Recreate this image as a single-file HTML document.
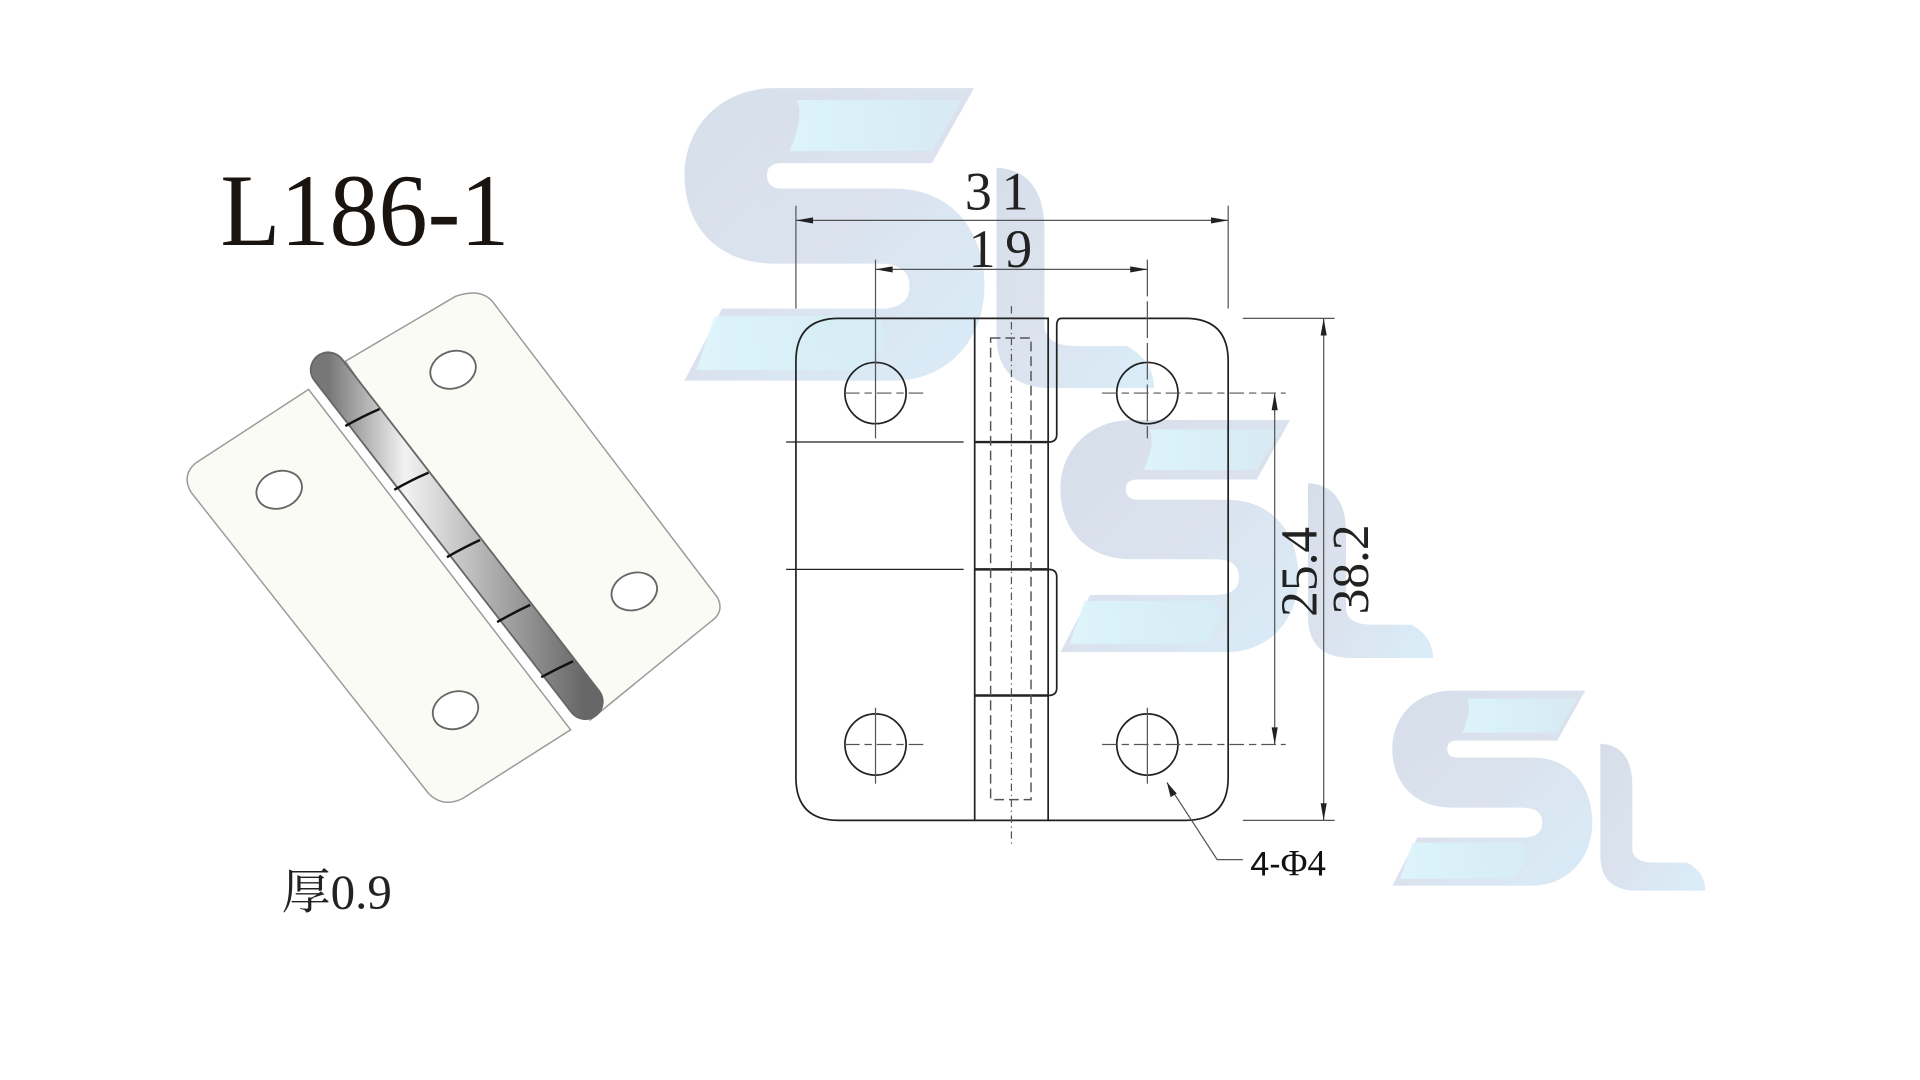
<!DOCTYPE html>
<html><head><meta charset="utf-8"><style>
html,body{margin:0;padding:0;background:#fff;}
svg{display:block;}
</style></head><body>
<svg width="1920" height="1080" viewBox="0 0 1568 882" xmlns="http://www.w3.org/2000/svg">
<defs>
<linearGradient id="lg" x1="0" y1="0" x2="1" y2="1">
<stop offset="0" stop-color="#cdd7e6"/><stop offset="0.5" stop-color="#d3dceb"/><stop offset="1" stop-color="#cfe9f7"/>
</linearGradient>
<linearGradient id="cy" x1="0" y1="0" x2="1" y2="0">
<stop offset="0" stop-color="#d6f5fd" stop-opacity="0.9"/><stop offset="1" stop-color="#c9f2fb" stop-opacity="0.4"/>
</linearGradient>
<linearGradient id="pin" x1="0" y1="0" x2="1" y2="0">
<stop offset="0" stop-color="#777"/><stop offset="0.3" stop-color="#f2f2f2"/><stop offset="0.6" stop-color="#b5b5b5"/><stop offset="1" stop-color="#666"/>
</linearGradient>
<g id="logo" opacity="0.8">
<path fill="url(#lg)" d="M60,0 H193 L165,50 H65 Q55,50 55,58 Q55,67 65,67 H140 C178,67 200,95 200,132 C200,168 175,195 140,195 H0 L25,147 H130 Q150,147 150,132 Q150,117 130,117 H60 C22,117 0,92 0,58 C0,25 25,0 60,0 Z"/>
<path fill="url(#cy)" d="M75,8 H185 L165,42 H70 Q80,20 75,8 Z"/>
<path fill="url(#cy)" d="M20,152 H130 Q140,170 120,188 H8 Z"/>
<path fill="url(#lg)" d="M208,53 Q240,55 240,95 V160 Q242,172 262,172 H295 Q313,182 313,200 H245 Q208,200 208,165 Z"/>
</g>
</defs>
<rect width="1568" height="882" fill="#fff"/>
<use href="#logo" transform="translate(559,72) scale(1.225)"/>
<use href="#logo" transform="translate(866,343) scale(0.972)"/>
<use href="#logo" transform="translate(1137,564) scale(0.817)"/>

<text x="180" y="200" font-family="Liberation Serif, serif" font-size="84" fill="#1a1410" textLength="236" lengthAdjust="spacingAndGlyphs">L186-1</text>
<text x="230" y="742" font-family="Liberation Serif, 'Noto Serif CJK SC', serif" font-size="40" fill="#222">厚0.9</text>

<g stroke="#9a9a9a" stroke-width="1.2" fill="#fbfbf6">
<path d="M282,295 L372,242 Q392,235 402,246 L586,488 Q592,500 580,508 L482,588 Z"/>
<path d="M252,318 L160,378 Q148,388 156,402 L350,648 Q362,660 378,652 L466,596 Z"/>
</g>
<path d="M268,302 L478,573" stroke="#666" stroke-width="30" stroke-linecap="round"/>
<path d="M268,302 L478,573" stroke="url(#pin)" stroke-width="27" stroke-linecap="round"/>
<g stroke="#111" stroke-width="2" fill="none">
<path d="M282,348 Q296,340 310,334"/><path d="M322,400 Q336,392 350,386"/><path d="M365,455 Q379,447 392,441"/><path d="M406,508 Q420,500 433,494"/><path d="M442,553 Q455,546 468,540"/>
</g>
<g stroke="#666" stroke-width="1.5" fill="#fff">
<ellipse cx="228" cy="400" rx="19" ry="15" transform="rotate(-20 228 400)"/>
<ellipse cx="370" cy="302" rx="19" ry="15" transform="rotate(-20 370 302)"/>
<ellipse cx="518" cy="483" rx="19" ry="15" transform="rotate(-20 518 483)"/>
<ellipse cx="372" cy="580" rx="19" ry="15" transform="rotate(-20 372 580)"/>
</g>

<g stroke="#222" stroke-width="1.4" fill="none">
<path d="M796,260 H685 Q650,260 650,295 V635 Q650,670 685,670 H796"/>
<path d="M796,260 H856 V670 H796 Z"/>
<line x1="796" y1="361" x2="856" y2="361" stroke-width="2"/>
<line x1="796" y1="465" x2="856" y2="465" stroke-width="2"/>
<line x1="796" y1="568" x2="856" y2="568" stroke-width="2"/>
<path d="M856,670 H968 Q1003,670 1003,635 V295 Q1003,260 968,260 H867 Q863,260 863,266 V355 Q863,361 856,361"/>
<path d="M856,465 Q863,465 863,471 V562 Q863,568 856,568"/>
<line x1="642" y1="361" x2="787" y2="361" stroke-width="1"/>
<line x1="642" y1="465" x2="787" y2="465" stroke-width="1"/>
<circle cx="715" cy="321" r="25"/><circle cx="937" cy="321" r="25"/>
<circle cx="715" cy="608" r="25"/><circle cx="937" cy="608" r="25"/>
</g>
<g stroke="#555" stroke-width="1.2" fill="none" stroke-dasharray="8,4">
<rect x="809" y="276" width="33" height="377"/>
</g>
<line x1="826" y1="250" x2="826" y2="690" stroke="#555" stroke-width="1" stroke-dasharray="6,3,1,3"/>
<g stroke="#555" stroke-width="1" fill="none">
<line x1="690" y1="321" x2="755" y2="321" stroke-dasharray="12,4,6,4"/>
<line x1="690" y1="608" x2="755" y2="608" stroke-dasharray="12,4,6,4"/>
<line x1="900" y1="321" x2="1050" y2="321" stroke-dasharray="12,4,6,4"/>
<line x1="900" y1="608" x2="1050" y2="608" stroke-dasharray="12,4,6,4"/>
<line x1="715" y1="212" x2="715" y2="358"/>
<line x1="715" y1="578" x2="715" y2="640"/>
<line x1="937" y1="212" x2="937" y2="358" stroke-dasharray="30,4"/>
<line x1="937" y1="578" x2="937" y2="640"/>
<line x1="650" y1="168" x2="650" y2="252"/>
<line x1="1003" y1="168" x2="1003" y2="252"/>
<line x1="650" y1="180" x2="1003" y2="180"/>
<line x1="715" y1="220" x2="937" y2="220"/>
<line x1="1041" y1="321" x2="1041" y2="608"/>
<line x1="1015" y1="260" x2="1090" y2="260"/>
<line x1="1015" y1="670" x2="1090" y2="670"/>
<line x1="1081" y1="260" x2="1081" y2="670"/>
<polyline points="953,639 994,702 1015,702"/>
</g>
<g fill="#222">
<path d="M650,180 l14,-2.5 v5 z"/><path d="M1003,180 l-14,-2.5 v5 z"/>
<path d="M715,220 l14,-2.5 v5 z"/><path d="M937,220 l-14,-2.5 v5 z"/>
<path d="M1041,321 l-2.5,14 h5 z"/><path d="M1041,608 l-2.5,-14 h5 z"/>
<path d="M1081,260 l-2.5,14 h5 z"/><path d="M1081,670 l-2.5,-14 h5 z"/>
<path d="M953,639 l3,12 l5,-3 z"/>
</g>
<g font-family="Liberation Serif, serif" font-size="44" fill="#222" text-anchor="middle">
<text x="818" y="171" letter-spacing="8">31</text>
<text x="821" y="218" letter-spacing="8">19</text>
<text transform="translate(1075,467) rotate(-90)" font-size="42">25.4</text>
<text transform="translate(1117,465) rotate(-90)" font-size="42">38.2</text>
</g>
<text x="1021" y="715" font-family="Liberation Sans, sans-serif" font-size="28" fill="#111">4-<tspan font-family="Liberation Serif, serif" font-size="30">Φ4</tspan></text>
</svg>
</body></html>
